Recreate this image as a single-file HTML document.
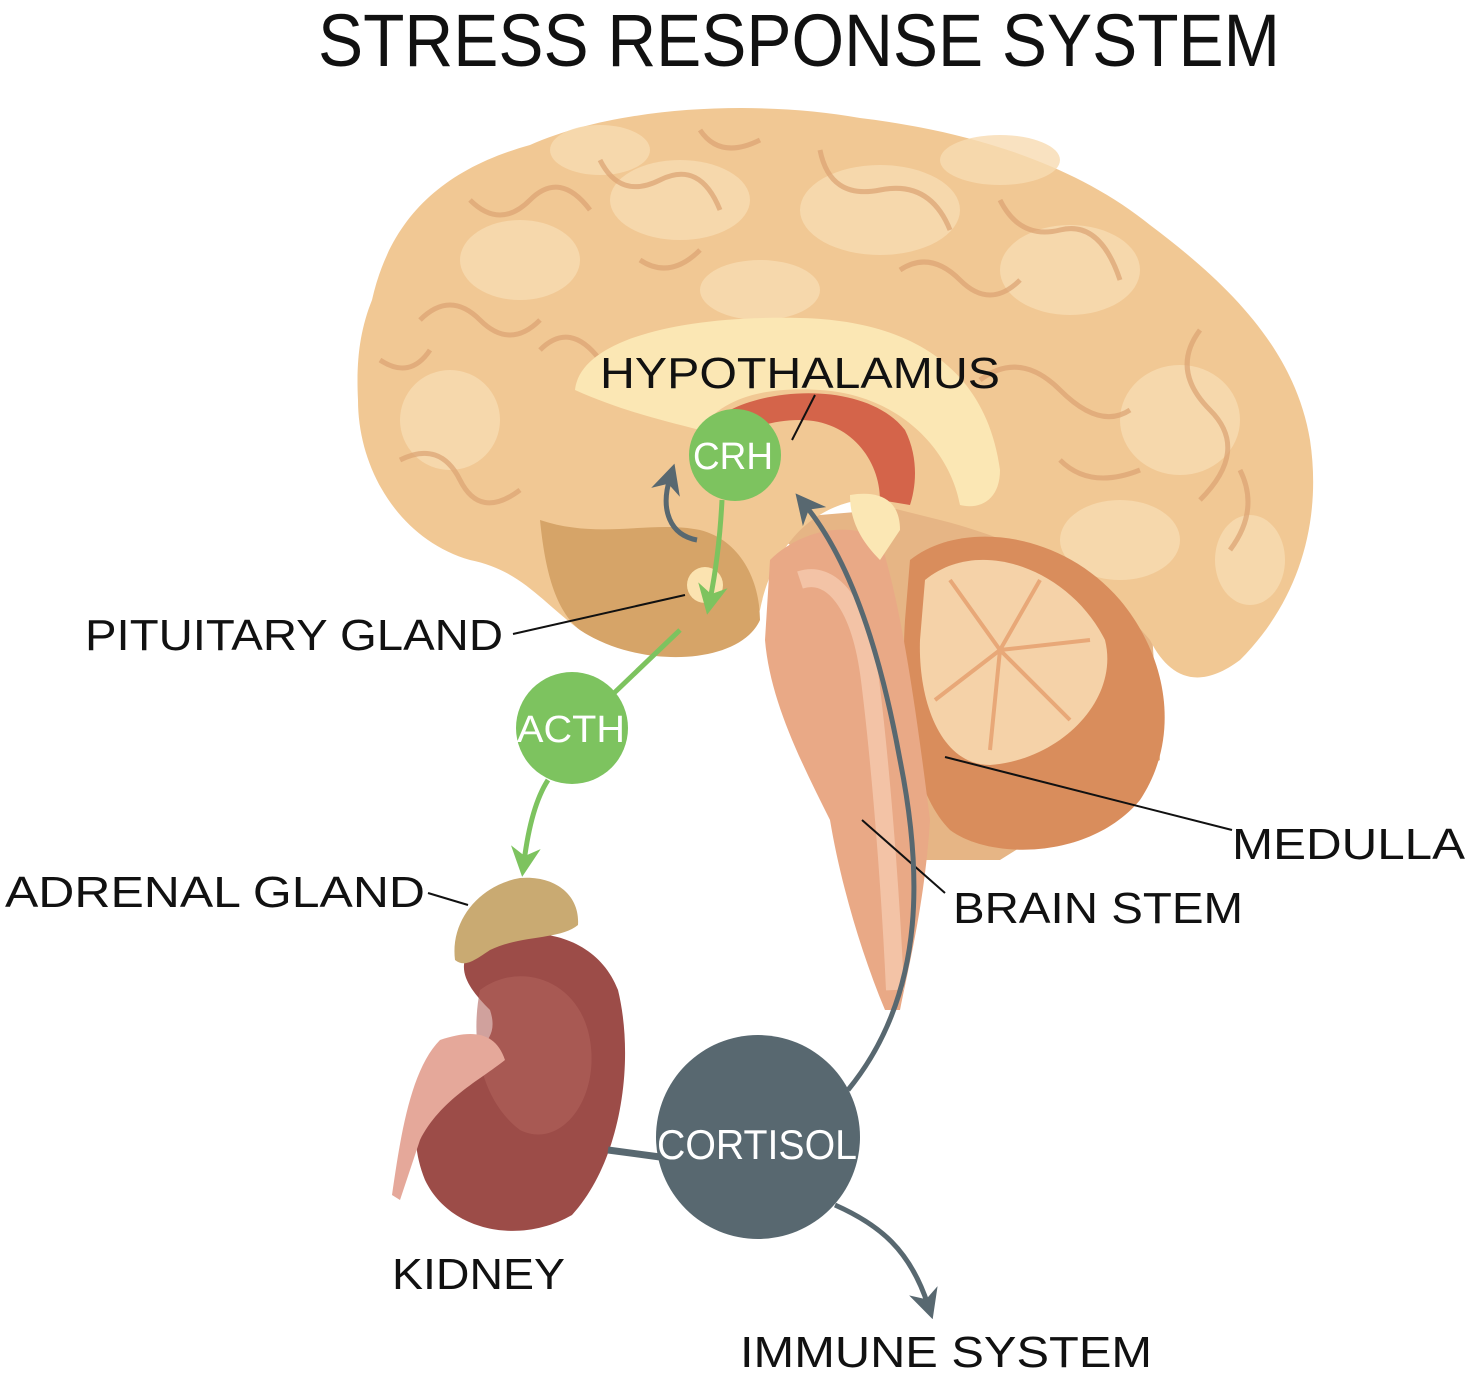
<!DOCTYPE html>
<html><head><meta charset="utf-8"><style>html,body{margin:0;padding:0;background:#fff}svg{display:block}</style></head>
<body>
<svg width="1468" height="1379" viewBox="0 0 1468 1379" xmlns="http://www.w3.org/2000/svg" font-family="Liberation Sans, sans-serif" font-weight="normal">
<defs>
<marker id="ag" viewBox="0 0 10 10" refX="5" refY="5" markerWidth="6" markerHeight="6" orient="auto-start-reverse"><path d="M0,0 L10,5 L0,10 L3,5 z" fill="#7dc35f"/></marker>
<marker id="ad" viewBox="0 0 10 10" refX="5" refY="5" markerWidth="6" markerHeight="6" orient="auto-start-reverse"><path d="M0,0 L10,5 L0,10 L3,5 z" fill="#586870"/></marker>
</defs>
<rect width="1468" height="1379" fill="#fff"/>
<text x="318" y="66" font-size="74" textLength="962" lengthAdjust="spacingAndGlyphs" fill="#111">STRESS RESPONSE SYSTEM</text>

<!-- filler behind stem/cerebellum -->
<path d="M760,520 L1000,500 L1150,600 L1160,760 L1000,860 L900,860 L880,620 Z" fill="#e6b585"/>
<!-- brain cerebrum -->
<path d="M372,300 C390,220 440,170 530,145 C620,105 760,100 860,118 C960,130 1070,160 1150,225 C1230,285 1295,350 1310,440 C1322,520 1300,600 1240,660 C1200,690 1170,680 1150,640 C1100,580 1020,540 940,520 L860,500 C800,510 770,560 760,610 C740,660 640,670 580,630 C540,600 520,570 470,560 C400,540 358,470 358,400 C356,360 360,330 372,300 Z" fill="#f1c894"/>
<g fill="#f8dcb2" opacity="0.8">
<ellipse cx="520" cy="260" rx="60" ry="40"/><ellipse cx="680" cy="200" rx="70" ry="40"/><ellipse cx="880" cy="210" rx="80" ry="45"/>
<ellipse cx="1070" cy="270" rx="70" ry="45"/><ellipse cx="1180" cy="420" rx="60" ry="55"/><ellipse cx="450" cy="420" rx="50" ry="50"/>
<ellipse cx="1120" cy="540" rx="60" ry="40"/><ellipse cx="760" cy="290" rx="60" ry="30"/>
<ellipse cx="600" cy="150" rx="50" ry="25"/><ellipse cx="1000" cy="160" rx="60" ry="25"/><ellipse cx="1250" cy="560" rx="35" ry="45"/>
</g>
<g fill="none" stroke="#dca372" stroke-width="5" opacity="0.7">
<path d="M420,320 q30,-30 60,0 t60,0"/><path d="M600,160 q20,40 60,20 t60,30"/><path d="M820,150 q10,50 60,40 t70,40"/>
<path d="M1000,200 q20,40 60,30 t60,50"/><path d="M1200,330 q-30,40 10,80 t-10,90"/><path d="M400,460 q40,-20 60,20 t60,10"/>
<path d="M980,380 q40,-30 80,10 t70,20"/><path d="M1060,460 q30,30 80,10"/><path d="M540,350 q30,-30 60,10"/>
<path d="M470,200 q30,30 60,0 t60,10"/><path d="M700,130 q20,30 60,10"/><path d="M900,270 q30,-20 60,10 t60,0"/>
<path d="M380,360 q30,20 50,-10"/><path d="M1240,470 q20,40 -10,80"/><path d="M640,260 q30,20 60,-10"/>
</g>
<!-- corpus callosum -->
<path d="M575,390 C580,340 680,315 800,318 C900,320 985,360 1000,470 C1000,500 980,510 960,505 C950,450 900,395 820,390 C760,386 720,400 700,430 C660,420 620,410 575,390 Z" fill="#fbe7b4"/>
<path d="M730,410 C780,385 870,385 905,430 C920,460 915,490 910,505 L880,500 C880,460 850,420 800,420 C770,420 745,430 730,440 Z" fill="#d4644a"/>
<!-- lower temporal -->
<path d="M540,520 C600,540 650,520 700,530 C740,540 760,580 760,620 C740,665 640,670 580,630 C555,610 545,570 540,520 Z" fill="#d6a468"/>
<!-- cerebellum -->
<path d="M910,560 C960,520 1060,530 1120,600 C1170,660 1180,740 1140,800 C1090,860 990,860 950,830 C910,790 900,700 905,620 Z" fill="#d98d5c"/>
<path d="M925,580 C980,535 1070,570 1105,640 C1120,700 1060,760 990,765 C940,765 918,700 920,640 Z" fill="#f5d2a8"/>
<g stroke="#e8a878" stroke-width="4" fill="none">
<path d="M1000,650 L950,580 M1000,650 L1040,580 M1000,650 L1090,640 M1000,650 L1070,720 M1000,650 L990,750 M1000,650 L935,700"/>
</g>
<!-- brainstem -->
<path d="M770,560 C800,530 850,520 880,540 C900,600 915,700 930,820 C925,900 910,960 900,1010 L885,1010 C860,950 840,880 830,820 C800,760 770,700 765,640 Z" fill="#e9a986"/>
<path d="M800,580 C830,570 860,600 870,680 C880,760 890,880 895,990" fill="none" stroke="#f6cfb4" stroke-width="18" opacity="0.7"/>
<circle cx="705" cy="585" r="18" fill="#fbe3b0"/>
<path d="M850,495 C880,490 900,500 900,530 L880,560 C860,540 850,520 850,495 Z" fill="#fbe7b4"/>

<!-- kidney -->
<path d="M470,950 C520,920 595,930 618,990 C635,1060 622,1160 572,1215 C520,1245 450,1232 425,1180 C405,1130 420,1090 445,1070 C480,1050 500,1040 490,1010 C470,990 455,970 470,950 Z" fill="#9c4c48"/>
<path d="M480,990 C520,960 580,980 590,1040 C600,1100 560,1150 520,1130 C480,1100 470,1040 480,990 Z" fill="#b0625c" opacity="0.6"/>
<path d="M440,1040 C470,1030 495,1030 505,1060 C480,1080 440,1100 420,1140 L400,1200 L392,1195 C400,1140 410,1070 440,1040 Z" fill="#e5a89a"/>
<path d="M455,960 C450,920 480,885 520,878 C555,875 580,895 578,925 C560,940 520,935 490,950 C475,960 465,968 455,960 Z" fill="#c9aa72"/>

<!-- connector lines -->
<g stroke="#111" stroke-width="2" fill="none">
<line x1="513" y1="634" x2="685" y2="595"/>
<line x1="428" y1="893" x2="468" y2="905"/>
<line x1="1232" y1="830" x2="945" y2="757"/>
<line x1="945" y1="893" x2="862" y2="820"/>
<line x1="792" y1="440" x2="815" y2="395"/>
</g>

<g stroke="#7dc35f" stroke-width="5" fill="none">
<path d="M722,500 C720,540 716,570 710,600" marker-end="url(#ag)"/>
<path d="M680,630 L612,695"/>
<path d="M548,780 C535,800 528,830 524,862" marker-end="url(#ag)"/>
</g>
<g stroke="#586870" stroke-width="5" fill="none">
<path d="M848,1090 C930,990 920,860 900,760 C880,650 850,560 805,505" marker-end="url(#ad)"/>
<path d="M697,540 C670,535 660,510 670,478" marker-end="url(#ad)"/>
<path d="M835,1205 C880,1225 910,1250 928,1305" marker-end="url(#ad)"/>
<path d="M608,1150 L660,1157" stroke-width="7"/>
</g>

<circle cx="735" cy="455" r="46" fill="#7dc35f"/>
<text x="693" y="469" font-size="38" fill="#fff" textLength="80" lengthAdjust="spacingAndGlyphs">CRH</text>
<circle cx="572" cy="728" r="56" fill="#7dc35f"/>
<text x="517" y="742" font-size="38" fill="#fff" textLength="108" lengthAdjust="spacingAndGlyphs">ACTH</text>
<circle cx="758" cy="1137" r="102" fill="#586870"/>
<text x="657" y="1159" font-size="42" fill="#fff" textLength="200" lengthAdjust="spacingAndGlyphs">CORTISOL</text>

<g fill="#111">
<text x="600" y="388" font-size="44" textLength="400" lengthAdjust="spacingAndGlyphs">HYPOTHALAMUS</text>
<text x="85" y="650" font-size="44" textLength="418" lengthAdjust="spacingAndGlyphs">PITUITARY GLAND</text>
<text x="5" y="907" font-size="44" textLength="420" lengthAdjust="spacingAndGlyphs">ADRENAL GLAND</text>
<text x="1232" y="859" font-size="44" textLength="233" lengthAdjust="spacingAndGlyphs">MEDULLA</text>
<text x="953" y="923" font-size="44" textLength="290" lengthAdjust="spacingAndGlyphs">BRAIN STEM</text>
<text x="392" y="1289" font-size="44" textLength="173" lengthAdjust="spacingAndGlyphs">KIDNEY</text>
<text x="740" y="1367" font-size="44" textLength="412" lengthAdjust="spacingAndGlyphs">IMMUNE SYSTEM</text>
</g>
</svg>
</body></html>
